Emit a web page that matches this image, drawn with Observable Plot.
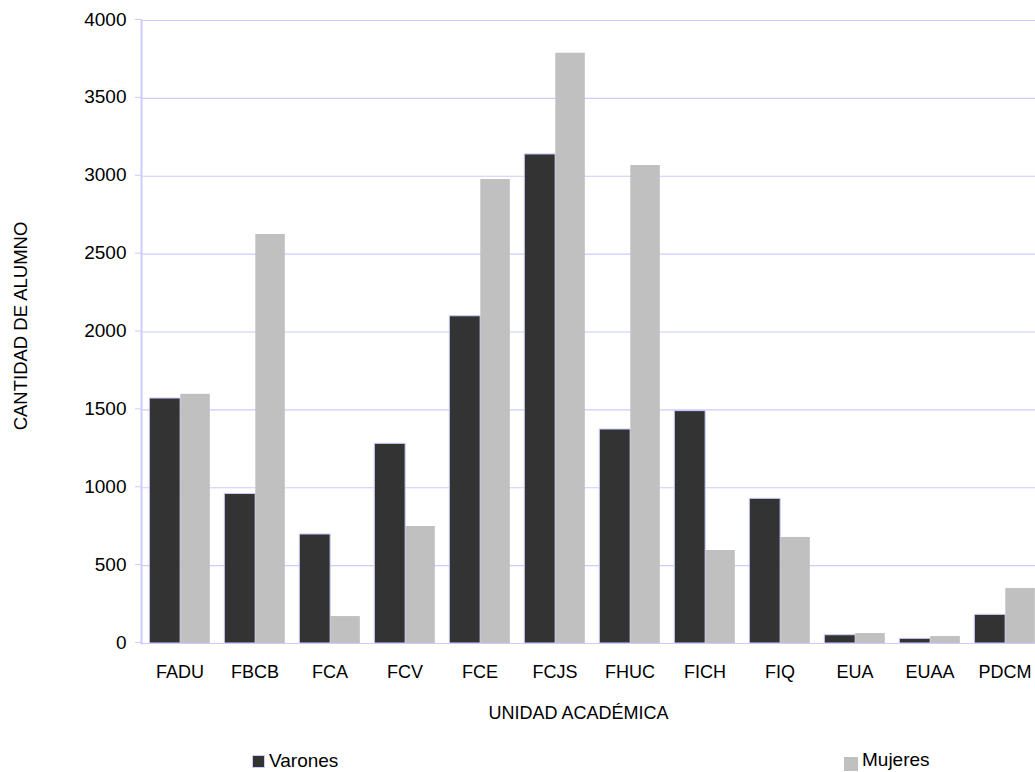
<!DOCTYPE html>
<html>
<head>
<meta charset="utf-8">
<script src="https://cdn.jsdelivr.net/npm/d3@7"></script>
<script src="https://cdn.jsdelivr.net/npm/@observablehq/plot@0.6"></script>
<style>
  html, body { margin: 0; padding: 0; background: #fff; overflow: hidden; }
  #wrap { position: relative; width: 1035px; height: 772px; overflow: hidden; font-family: "Liberation Sans", Arial, sans-serif; }
  .leg { position: absolute; font-size: 19px; color: #000; line-height: 19px; white-space: nowrap; }
  .sw { position: absolute; left: 0; }
  .lt { position: absolute; top: 0; }
</style>
</head>
<body>
<div id="wrap"></div>
<script>
const categories = ["FADU","FBCB","FCA","FCV","FCE","FCJS","FHUC","FICH","FIQ","EUA","EUAA","PDCM"];
const varones = [1573, 960, 700, 1282, 2101, 3140, 1374, 1492, 929, 53, 30, 184];
const mujeres = [1600, 2626, 173, 751, 2979, 3790, 3069, 597, 681, 64, 45, 353];
const yTicks = [0, 500, 1000, 1500, 2000, 2500, 3000, 3500, 4000];
const seriesNames = ["Varones", "Mujeres"];
const xTitle = "UNIDAD ACADÉMICA";
const yTitle = "CANTIDAD DE ALUMNO";

const dataV = categories.map((c, i) => ({cat: c, value: varones[i]}));
const dataM = categories.map((c, i) => ({cat: c, value: mujeres[i]}));

const grid = "#ccccff";
const dark = "#333333";
const light = "#c0c0c0";
const xRange = [141, 1043];
const bw = (xRange[1] - xRange[0]) / categories.length;

const chart = Plot.plot({
  width: 1035,
  height: 730,
  marginLeft: 141,
  marginTop: 20,
  marginBottom: 87,
  marginRight: 0,
  style: {fontFamily: "Liberation Sans, Arial, sans-serif", fontSize: "18px", color: "#000", background: "#fff", overflow: "hidden"},
  x: {domain: categories, range: xRange, padding: 0},
  y: {domain: [0, 4000], ticks: yTicks},
  marks: [
    Plot.ruleY(yTicks, {stroke: grid, strokeWidth: 1.2}),
    Plot.barY(dataV, {x: "cat", y: "value", fill: dark, stroke: grid, strokeWidth: 1, insetLeft: 7.3, insetRight: bw - 38.3}),
    Plot.barY(dataM, {x: "cat", y: "value", fill: light, insetLeft: 38.3, insetRight: bw - 38.3 - 29.7}),
    Plot.ruleX(categories, {x: d => d, dx: -bw / 2, stroke: grid, strokeWidth: 1.2, insetTop: 623, dy: 5}),
    Plot.frame({anchor: "left", stroke: grid, strokeWidth: 2}),
    Plot.axisY(yTicks, {tickSize: 6, tickPadding: 9, stroke: grid, fill: "#000", label: null, fontSize: 19, tickFormat: d => String(d), dy: -1}),
    Plot.axisX({tickSize: 0, tickPadding: 22, fill: "#000", label: null, fontSize: 18}),
    Plot.text([xTitle], {frameAnchor: "bottom", dx: -10, dy: 75, text: d => d, fontSize: 18, fill: "#000"}),
    Plot.text([yTitle], {frameAnchor: "left", textAnchor: "middle", dx: -120, dy: -6, rotate: -90, text: d => d, fontSize: 18.5, fill: "#000"})
  ]
});

const wrap = document.getElementById("wrap");
wrap.appendChild(chart);

const legItems = [
  {name: seriesNames[0], color: dark, left: 252, top: 751, sq: 13, sqTop: 4, textLeft: 17, border: "1px solid " + grid},
  {name: seriesNames[1], color: light, left: 844, top: 750, sq: 14, sqTop: 7, textLeft: 18, border: "none"}
];
for (const it of legItems) {
  const d = document.createElement("div");
  d.className = "leg";
  d.style.left = it.left + "px";
  d.style.top = it.top + "px";
  const s = document.createElement("span");
  s.className = "sw";
  s.style.top = it.sqTop + "px";
  s.style.width = it.sq + "px";
  s.style.height = it.sq + "px";
  s.style.background = it.color;
  s.style.border = it.border;
  s.style.boxSizing = "border-box";
  const t = document.createElement("span");
  t.className = "lt";
  t.style.left = it.textLeft + "px";
  t.textContent = it.name;
  d.appendChild(s);
  d.appendChild(t);
  wrap.appendChild(d);
}
</script>
</body>
</html>
